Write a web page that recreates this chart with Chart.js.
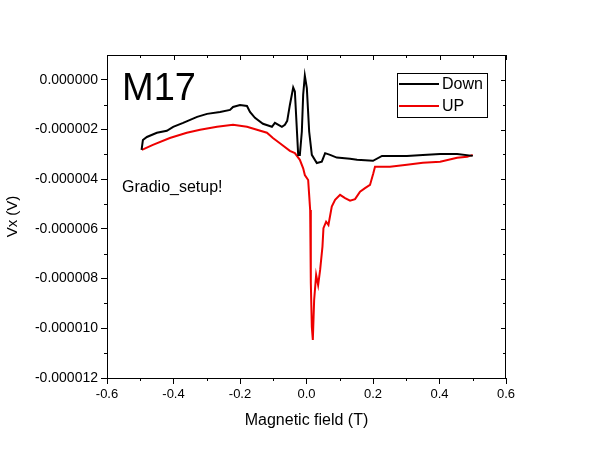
<!DOCTYPE html>
<html>
<head>
<meta charset="utf-8">
<script src="https://cdn.jsdelivr.net/npm/chart.js@4/dist/chart.umd.min.js"></script>
<style>
  html, body { margin: 0; padding: 0; background: #fff; }
  #wrap { width: 594px; height: 456px; }
</style>
</head>
<body>
<div id="wrap"><canvas id="plot1"></canvas></div>
<script>
// Down sweep (black), field in T, Vx in V
let downX = [-0.496, -0.492, -0.480, -0.450, -0.420, -0.401, -0.371, -0.329, -0.299, -0.260,
  -0.230, -0.221, -0.200, -0.179, -0.170, -0.155, -0.131, -0.104, -0.095, -0.074,
  -0.065, -0.058, -0.050, -0.040, -0.035, -0.025, -0.020, -0.014, -0.010, -0.005,
  0.001, 0.008, 0.016, 0.031, 0.046, 0.056, 0.071, 0.091, 0.131, 0.152,
  0.200, 0.227, 0.302, 0.350, 0.402, 0.453, 0.500];
let downY = [-2.82e-6, -2.42e-6, -2.30e-6, -2.13e-6, -2.05e-6, -1.89e-6, -1.73e-6, -1.49e-6, -1.37e-6, -1.29e-6,
  -1.21e-6, -1.09e-6, -1.01e-6, -1.05e-6, -1.29e-6, -1.53e-6, -1.77e-6, -1.89e-6, -1.73e-6, -1.89e-6,
  -1.81e-6, -1.65e-6, -1.01e-6, -0.31e-6, -0.47e-6, -3.02e-6, -3.02e-6, -2.08e-6, -0.60e-6, 0.17e-6,
  -0.33e-6, -2.08e-6, -3.02e-6, -3.35e-6, -3.29e-6, -2.95e-6, -3.02e-6, -3.13e-6, -3.18e-6, -3.22e-6,
  -3.26e-6, -3.06e-6, -3.06e-6, -3.02e-6, -2.98e-6, -2.98e-6, -3.06e-6];

// UP sweep (red)
let upX = [-0.495, -0.462, -0.411, -0.360, -0.320, -0.269, -0.221, -0.179, -0.149, -0.119,
  -0.101, -0.080, -0.050, -0.035, -0.020, -0.010, -0.005, 0.005, 0.008, 0.011,
  0.013, 0.016, 0.019, 0.023, 0.029, 0.035, 0.041, 0.048, 0.051, 0.059,
  0.066, 0.076, 0.086, 0.101, 0.116, 0.131, 0.146, 0.161, 0.176, 0.191,
  0.201, 0.206, 0.251, 0.302, 0.350, 0.402, 0.453, 0.483, 0.500];
let upY = [-2.82e-6, -2.62e-6, -2.34e-6, -2.13e-6, -2.01e-6, -1.89e-6, -1.81e-6, -1.89e-6, -2.01e-6, -2.13e-6,
  -2.34e-6, -2.55e-6, -2.86e-6, -2.95e-6, -3.22e-6, -3.56e-6, -3.83e-6, -4.03e-6, -4.63e-6, -5.24e-6,
  -8.18e-6, -9.94e-6, -10.47e-6, -8.86e-6, -7.85e-6, -8.26e-6, -7.65e-6, -6.71e-6, -5.97e-6, -5.71e-6,
  -5.84e-6, -5.10e-6, -4.83e-6, -4.63e-6, -4.76e-6, -4.86e-6, -4.80e-6, -4.50e-6, -4.36e-6, -4.23e-6,
  -3.76e-6, -3.50e-6, -3.50e-6, -3.42e-6, -3.34e-6, -3.30e-6, -3.14e-6, -3.10e-6, -3.02e-6];

// axis ticks
let xMajor = [-0.6, -0.4, -0.2, 0.0, 0.2, 0.4, 0.6];
let xMinor = [-0.5, -0.3, -0.1, 0.1, 0.3, 0.5];
let yMajor = [-12e-6, -10e-6, -8e-6, -6e-6, -4e-6, -2e-6, 0];
let yMinor = [-11e-6, -9e-6, -7e-6, -5e-6, -3e-6, -1e-6];

let FONT = "'Liberation Sans', Arial, sans-serif";

let toPoints = (xs, ys) => xs.map((x, i) => ({ x: x, y: ys[i] }));

//dibuja marco, ticks menores, leyenda y textos
let extras = {
  id: "extras",
  afterDraw(chart) {
    let { ctx, chartArea: a, scales } = chart;
    let sx = scales.x, sy = scales.y;
    ctx.save();
    ctx.strokeStyle = "#000";
    ctx.lineWidth = 1;
    ctx.strokeRect(a.left + 0.5, a.top + 0.5, a.right - a.left - 1, a.bottom - a.top);

    let tick = (x1, y1, x2, y2) => {
      ctx.beginPath();
      ctx.moveTo(x1, y1);
      ctx.lineTo(x2, y2);
      ctx.stroke();
    };
    xMajor.forEach((v) => {
      let px = Math.round(sx.getPixelForValue(v)) + 0.5;
      tick(px, a.top, px, a.top + 5);
    });
    xMinor.forEach((v) => {
      let px = Math.round(sx.getPixelForValue(v)) + 0.5;
      tick(px, a.top, px, a.top + 3);
      tick(px, a.bottom, px, a.bottom + 3);
    });
    yMajor.forEach((v) => {
      let py = Math.round(sy.getPixelForValue(v)) + 0.5;
      tick(a.right, py, a.right - 5, py);
    });
    yMinor.forEach((v) => {
      let py = Math.round(sy.getPixelForValue(v)) + 0.5;
      tick(a.right, py, a.right - 3, py);
      tick(a.left, py, a.left - 3, py);
    });

    // leyenda
    ctx.strokeRect(397.5, 73.5, 90, 44);
    let sets = chart.data.datasets;
    sets.forEach((ds, i) => {
      let ly = 84 + i * 22;
      ctx.strokeStyle = ds.borderColor;
      ctx.lineWidth = 2;
      tick(399, ly, 439, ly);
      ctx.fillStyle = "#000";
      ctx.font = "16px " + FONT;
      ctx.textBaseline = "middle";
      ctx.fillText(ds.label, 442, ly + 1);
    });

    ctx.fillStyle = "#000";
    ctx.textBaseline = "alphabetic";
    ctx.font = "38px " + FONT;
    ctx.fillText("M17", 122, 100);
    ctx.font = "16px " + FONT;
    ctx.fillText("Gradio_setup!", 122, 192);
    ctx.restore();
  },
};

let plotRef = document.getElementById("plot1");

let config = {
  type: "line",
  data: {
    datasets: [
      {
        label: "Down",
        data: toPoints(downX, downY),
        borderColor: "#000000",
        borderWidth: 2,
        pointRadius: 0,
        tension: 0,
      },
      {
        label: "UP",
        data: toPoints(upX, upY),
        borderColor: "#ee0000",
        borderWidth: 2,
        pointRadius: 0,
        tension: 0,
      },
    ],
  },
  options: {
    responsive: true,
    maintainAspectRatio: false,
    animation: false,
    layout: { padding: { top: 55, right: 88, left: 0, bottom: 0 } },
    plugins: { legend: { display: false }, tooltip: { enabled: false } },
    scales: {
      x: {
        type: "linear",
        min: -0.6,
        max: 0.6,
        afterBuildTicks: (s) => { s.ticks = xMajor.map((v) => ({ value: v })); },
        afterFit: (s) => { s.height = 78; },
        grid: { drawOnChartArea: false, tickLength: 6, tickColor: "#000" },
        border: { display: true, color: "#000" },
        ticks: {
          color: "#000",
          font: { family: FONT, size: 13 },
          padding: 3,
          maxRotation: 0,
          callback: (v) => (Math.abs(v) < 1e-9 ? "0.0" : v.toFixed(1)),
        },
        title: {
          display: true,
          text: "Magnetic field (T)",
          color: "#000",
          font: { family: FONT, size: 16 },
          padding: { top: 0, bottom: 26 },
        },
      },
      y: {
        type: "linear",
        min: -12e-6,
        max: 1e-6,
        afterBuildTicks: (s) => { s.ticks = yMajor.map((v) => ({ value: v })); },
        afterFit: (s) => { s.width = 107; },
        grid: { drawOnChartArea: false, tickLength: 6, tickColor: "#000" },
        border: { display: true, color: "#000" },
        ticks: {
          color: "#000",
          font: { family: FONT, size: 14 },
          padding: 3,
          callback: (v) => (Math.abs(v) < 1e-12 ? "0.000000" : v.toFixed(6)),
        },
        title: {
          display: true,
          text: "Vx (V)",
          color: "#000",
          font: { family: FONT, size: 15 },
          padding: { top: 4, bottom: 0 },
        },
      },
    },
  },
  plugins: [extras],
};

let chart1 = new Chart(plotRef, config);
</script>
</body>
</html>
